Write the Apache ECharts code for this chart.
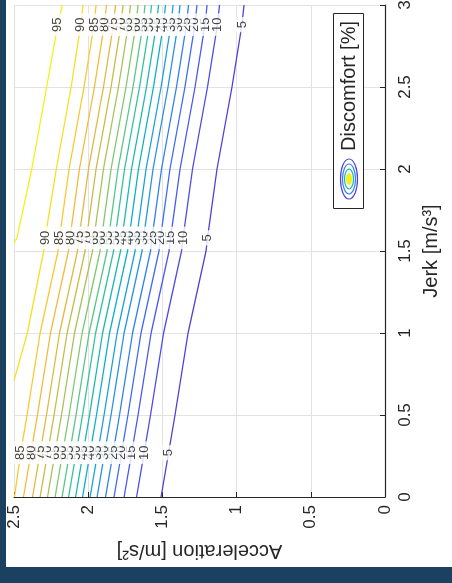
<!DOCTYPE html>
<html><head><meta charset="utf-8">
<script src="https://cdn.jsdelivr.net/npm/echarts@6/dist/echarts.min.js"></script>
<style>html,body{margin:0;padding:0;background:#1b4060;}#c{width:452px;height:583px;}</style>
</head><body><div id="c"></div>
<script>
// Discomfort contour levels [%]
const levels = [5,10,15,20,25,30,35,40,45,50,55,60,65,70,75,80,85,90,95];
// Jerk sample positions [m/s^3] along each contour
const jerkFull = [0, 0.27, 0.5, 1, 1.5, 1.58, 2, 2.5, 2.88, 3];
const jerk90 = [0.71, 1, 1.5, 1.58, 2, 2.5, 2.88, 3];
const jerk95 = [1.55, 1.58, 2, 2.5, 2.88, 3];
// Acceleration [m/s^2] of each contour at those jerk samples
const acc05 = [1.509,1.458,1.415,1.327,1.206,1.196,1.132,1.031,0.964,0.950];
const acc10 = [1.674,1.623,1.580,1.492,1.371,1.361,1.297,1.196,1.129,1.115];
const acc15 = [1.758,1.707,1.664,1.576,1.455,1.445,1.381,1.280,1.213,1.199];
const acc20 = [1.826,1.775,1.732,1.644,1.523,1.513,1.449,1.348,1.281,1.267];
const acc25 = [1.883,1.832,1.789,1.701,1.580,1.570,1.506,1.405,1.338,1.324];
const acc30 = [1.940,1.889,1.846,1.758,1.637,1.627,1.563,1.462,1.395,1.381];
const acc35 = [1.987,1.936,1.893,1.805,1.684,1.674,1.610,1.509,1.442,1.428];
const acc40 = [2.038,1.987,1.944,1.856,1.735,1.725,1.661,1.560,1.493,1.479];
const acc45 = [2.085,2.034,1.991,1.903,1.782,1.772,1.708,1.607,1.540,1.526];
const acc50 = [2.132,2.081,2.038,1.950,1.829,1.819,1.755,1.654,1.587,1.573];
const acc55 = [2.176,2.125,2.082,1.994,1.873,1.863,1.799,1.698,1.631,1.617];
const acc60 = [2.223,2.172,2.129,2.041,1.920,1.910,1.846,1.745,1.678,1.664];
const acc65 = [2.274,2.223,2.180,2.092,1.971,1.961,1.897,1.796,1.729,1.715];
const acc70 = [2.324,2.273,2.230,2.142,2.021,2.011,1.947,1.846,1.779,1.765];
const acc75 = [2.375,2.324,2.281,2.193,2.072,2.062,1.998,1.897,1.830,1.816];
const acc80 = [2.436,2.385,2.342,2.254,2.133,2.123,2.059,1.958,1.891,1.877];
const acc85 = [2.497,2.455,2.412,2.324,2.203,2.193,2.129,2.028,1.961,1.947];
const acc90 = [2.500,2.410,2.300,2.290,2.215,2.115,2.050,2.035];
const acc95 = [2.500,2.480,2.380,2.280,2.205,2.175];
// Inline contour-label clusters: jerk position and highest labelled level
const labelJerks = [0.27, 1.58, 2.88];
const labelTopLevel = [85, 90, 95];
// Axis tick setup
const accMin = 0, accMax = 2.5, jerkMin = 0, jerkMax = 3, tickStep = 0.5;
const legendLabel = 'Discomfort [%]';

const accByLevel = [acc05,acc10,acc15,acc20,acc25,acc30,acc35,acc40,acc45,acc50,acc55,acc60,acc65,acc70,acc75,acc80,acc85,acc90,acc95];
const jerkByLevel = levels.map(l => l === 90 ? jerk90 : (l === 95 ? jerk95 : jerkFull));
const levelColors = ['#5040d8','#4c4ce6','#4a58f0','#3f6af8','#2e80f2','#2592e4','#1aa2d6','#0cb0c6','#19b9b0','#33c19c','#58c684','#7fc86c','#a6c356','#c8bc44','#e3b83e','#f6ba3a','#fbc92e','#f6df24','#f3f01a'];

const font = "'Liberation Sans', Arial, Helvetica, sans-serif";
const ink = '#262626';

const series = [];
levels.forEach((lv, i) => {
  series.push({
    type: 'line',
    name: 'c' + lv,
    data: accByLevel[i].map((a, k) => [a, jerkByLevel[i][k]]),
    symbol: 'none',
    smooth: false,
    silent: true,
    lineStyle: { color: levelColors[i], width: 1.3 },
    z: 3
  });
});
const labelData = [];
labelJerks.forEach((jv, c) => {
  levels.forEach((lv, i) => {
    if (lv > labelTopLevel[c]) return;
    const idx = jerkByLevel[i].indexOf(jv);
    if (idx >= 0) labelData.push([accByLevel[i][idx], jv, lv]);
  });
});
series.push({
  type: 'scatter',
  data: labelData,
  symbol: 'circle',
  symbolSize: 1,
  silent: true,
  itemStyle: { color: 'rgba(0,0,0,0)' },
  label: {
    show: true,
    position: 'inside',
    rotate: 90,
    formatter: p => String(p.value[2]),
    fontFamily: font,
    fontSize: 13,
    color: '#111111',
    backgroundColor: '#ffffff',
    padding: [0, 4]
  },
  z: 5
});

const chart = echarts.init(document.getElementById('c'), null, { renderer: 'canvas' });
chart.setOption({
  animation: false,
  backgroundColor: '#1b4060',
  textStyle: { fontFamily: font },
  grid: { left: 14, right: 67, top: 5, bottom: 86, containLabel: false, outerBoundsMode: 'none' },
  xAxis: {
    type: 'value', min: accMin, max: accMax, interval: tickStep, inverse: true, position: 'bottom',
    axisLine: { show: true, onZero: false, lineStyle: { color: ink, width: 1.2 } },
    axisTick: { show: true, inside: true, length: 5, lineStyle: { color: ink } },
    axisLabel: { rotate: 90, margin: 8, fontSize: 17, color: ink, fontFamily: font, showMinLabel: true, showMaxLabel: true, hideOverlap: false },
    splitLine: { show: true, lineStyle: { color: '#e2e2e2', width: 1 } },
    name: 'Acceleration [m/s²]', nameLocation: 'middle', nameGap: 44, nameRotate: 180,
    nameTextStyle: { fontSize: 20, color: ink, fontFamily: font }
  },
  yAxis: {
    type: 'value', min: jerkMin, max: jerkMax, interval: tickStep, position: 'right',
    axisLine: { show: true, onZero: false, lineStyle: { color: ink, width: 1.2 } },
    axisTick: { show: true, inside: true, length: 5, lineStyle: { color: ink } },
    axisLabel: { rotate: 90, margin: 12, fontSize: 17, color: ink, fontFamily: font, showMinLabel: true, showMaxLabel: true, hideOverlap: false },
    splitLine: { show: true, lineStyle: { color: '#e2e2e2', width: 1 } },
    name: 'Jerk [m/s³]', nameLocation: 'middle', nameGap: 36, nameRotate: 90,
    nameTextStyle: { fontSize: 20, color: ink, fontFamily: font }
  },
  graphic: [
    { type: 'rect', z: -100, silent: true, shape: { x: 6, y: 0, width: 446, height: 567 }, style: { fill: '#ffffff' } },
    { type: 'rect', z: 100, silent: true, shape: { x: 333.5, y: 13.5, width: 30, height: 195 }, style: { fill: '#ffffff', stroke: ink, lineWidth: 1 } },
    { type: 'ellipse', z: 101, silent: true, shape: { cx: 349, cy: 179, rx: 8.5, ry: 20 }, style: { fill: 'none', stroke: levelColors[0], lineWidth: 1.2 } },
    { type: 'ellipse', z: 101, silent: true, shape: { cx: 349, cy: 179, rx: 6.5, ry: 15 }, style: { fill: 'none', stroke: levelColors[4], lineWidth: 1.2 } },
    { type: 'ellipse', z: 101, silent: true, shape: { cx: 349, cy: 179, rx: 4.5, ry: 10 }, style: { fill: 'none', stroke: levelColors[8], lineWidth: 1.2 } },
    { type: 'ellipse', z: 101, silent: true, shape: { cx: 349, cy: 179, rx: 2.5, ry: 5.5 }, style: { fill: levelColors[18], stroke: levelColors[18], lineWidth: 1 } },
    { type: 'text', z: 101, silent: true, x: 349, y: 86, rotation: Math.PI / 2,
      style: { text: legendLabel, fontSize: 20, fontFamily: font, fill: ink, align: 'center', verticalAlign: 'middle' } }
  ],
  series: series
});
</script>
</body></html>
